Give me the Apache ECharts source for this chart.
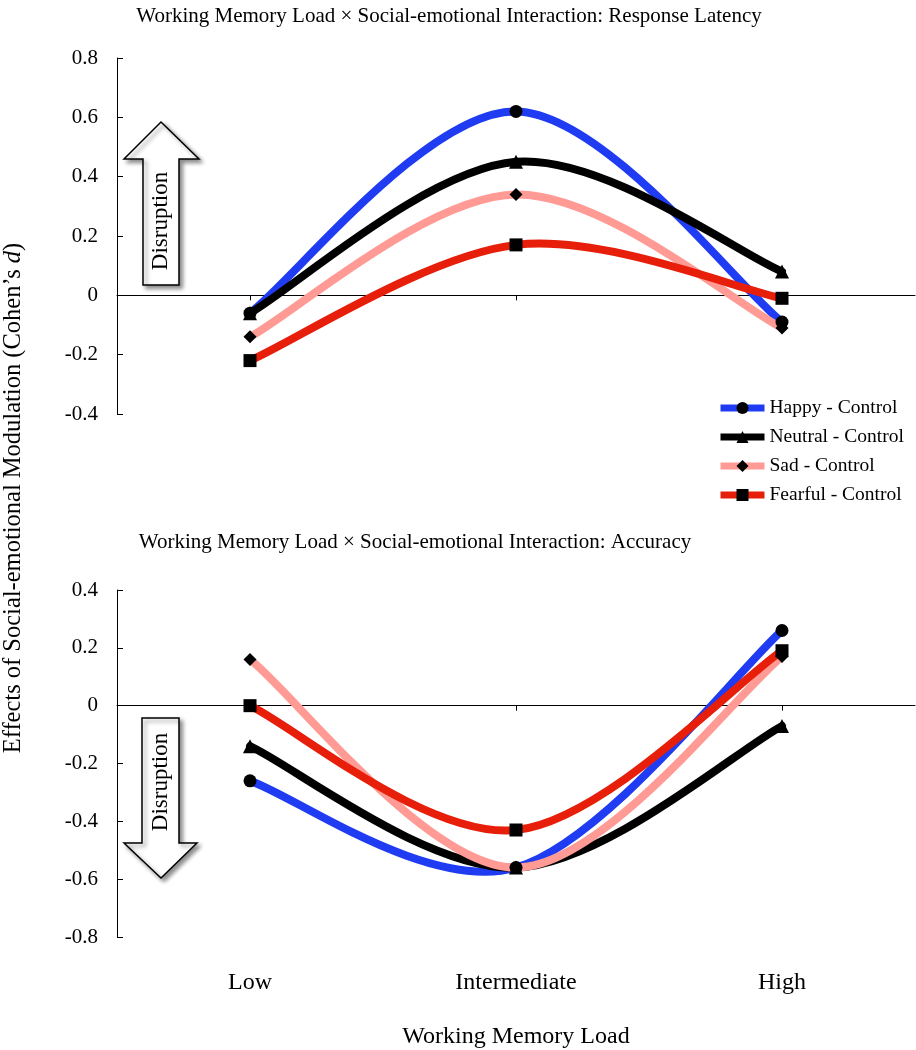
<!DOCTYPE html>
<html>
<head>
<meta charset="utf-8">
<script src="https://cdn.jsdelivr.net/npm/echarts@6/dist/echarts.min.js"></script>
<style>html,body{margin:0;padding:0;background:#fff}#c{width:916px;height:1050px}</style>
</head>
<body>
<div id="c"></div>
<script>
// ---- data ----
var categories = ['Low', 'Intermediate', 'High'];
var seriesNames = ['Happy - Control', 'Neutral - Control', 'Sad - Control', 'Fearful - Control'];
// Response latency (Cohen's d)
var latencyHappy   = [-0.06, 0.62, -0.09];
var latencyNeutral = [-0.06, 0.45, 0.08];
var latencySad     = [-0.14, 0.34, -0.11];
var latencyFearful = [-0.22, 0.17, -0.01];
// Accuracy (Cohen's d)
var accuracyHappy   = [-0.26, -0.56, 0.26];
var accuracyNeutral = [-0.14, -0.56, -0.07];
var accuracySad     = [0.16, -0.56, 0.17];
var accuracyFearful = [0.00, -0.43, 0.19];
// axis ticks
var latencyTicks = {min: -0.4, max: 0.8, interval: 0.2};
var accuracyTicks = {min: -0.8, max: 0.4, interval: 0.2};

var FONT = '"Liberation Serif", "Times New Roman", serif';
var colors = ['#1f3cf2', '#000000', '#ff9a94', '#e61e0a'];
var symbols = ['circle', 'triangle', 'diamond', 'rect'];
var symSizes = [13, 14, 13, 13];

var latencyData = [latencyHappy, latencyNeutral, latencySad, latencyFearful];
var accuracyData = [accuracyHappy, accuracyNeutral, accuracySad, accuracyFearful];

// smoothed curve (spreadsheet-style cubic Bezier, tension 1/6) drawn through the axes' scales
function mkCurve(vals, idx, xi, yi) {
  var n = vals.length;
  return {
    type: 'custom', xAxisIndex: xi, yAxisIndex: yi, silent: true, z: 2,
    data: vals.map(function (v, k) { return [k, v]; }),
    renderItem: function (params, api) {
      var i = params.dataIndex;
      if (i >= n - 1) return null;
      function pt(k) { return api.coord([k, vals[k]]); }
      var p1 = pt(i), p2 = pt(i + 1);
      var p0 = i > 0 ? pt(i - 1) : p1;
      var p3 = i + 2 < n ? pt(i + 2) : p2;
      var f = 1 / 6;
      return {
        type: 'bezierCurve',
        shape: {
          x1: p1[0], y1: p1[1], x2: p2[0], y2: p2[1],
          cpx1: p1[0] + f * (p2[0] - p0[0]), cpy1: p1[1] + f * (p2[1] - p0[1]),
          cpx2: p2[0] - f * (p3[0] - p1[0]), cpy2: p2[1] - f * (p3[1] - p1[1])
        },
        style: {fill: 'none', stroke: colors[idx], lineWidth: 8, lineCap: 'round'}
      };
    }
  };
}
function mkMarkers(vals, idx, xi, yi) {
  return {
    name: seriesNames[idx], type: 'line', data: vals,
    xAxisIndex: xi, yAxisIndex: yi,
    symbol: symbols[idx], symbolSize: symSizes[idx], showAllSymbol: true,
    lineStyle: {color: colors[idx], width: 8, opacity: 0},
    itemStyle: {color: '#000'},
    z: 3, emphasis: {disabled: true}, silent: true
  };
}
var series = [];
for (var i = 0; i < 4; i++) series.push(mkMarkers(latencyData[i], i, 0, 0));
for (var i = 0; i < 4; i++) series.push(mkMarkers(accuracyData[i], i, 1, 1));
for (var i = 0; i < 4; i++) series.push(mkCurve(latencyData[i], i, 0, 0));
for (var i = 0; i < 4; i++) series.push(mkCurve(accuracyData[i], i, 1, 1));

function yAx(grid, t) {
  return {
    type: 'value', gridIndex: grid, min: t.min, max: t.max, interval: t.interval,
    axisLine: {show: true, lineStyle: {color: '#000', width: 1}},
    axisTick: {show: true, inside: true, length: 6, lineStyle: {color: '#000'}},
    axisLabel: {color: '#000', fontFamily: FONT, fontSize: 21, margin: 19},
    splitLine: {show: false}
  };
}
function xAxZero(grid) {
  return {
    type: 'category', gridIndex: grid, data: categories, boundaryGap: true, position: 'bottom',
    axisLine: {show: true, onZero: true, lineStyle: {color: '#000', width: 1}},
    axisTick: {show: true, alignWithLabel: true, length: 5, lineStyle: {color: '#000'}},
    axisLabel: {show: false}
  };
}

var legendData = seriesNames.map(function (nm, k) {
  return {name: nm, lineStyle: {color: colors[k], width: 7, opacity: 1}, itemStyle: {color: '#000'}};
});

var option = {
  animation: false,
  backgroundColor: '#fff',
  grid: [
    {left: 117, width: 798, top: 58, height: 356},
    {left: 117, width: 798, top: 590, height: 355}
  ],
  xAxis: [
    xAxZero(0),
    xAxZero(1),
    {
      type: 'category', gridIndex: 1, data: categories, boundaryGap: true, position: 'bottom',
      axisLine: {show: false, onZero: false}, axisTick: {show: false},
      axisLabel: {color: '#000', fontFamily: FONT, fontSize: 24, margin: 34},
      name: 'Working Memory Load', nameLocation: 'middle', nameGap: 88,
      nameTextStyle: {color: '#000', fontFamily: FONT, fontSize: 24}
    }
  ],
  yAxis: [yAx(0, latencyTicks), yAx(1, accuracyTicks)],
  legend: {
    data: legendData, orient: 'vertical', left: 717, top: 398, padding: 0,
    itemWidth: 44, itemHeight: 15, itemGap: 9,
    textStyle: {color: '#000', fontFamily: FONT, fontSize: 19.5, lineHeight: 20},
    selectedMode: false
  },
  series: series,
  graphic: [
    {type: 'text', style: {text: 'Working Memory Load \u00d7 Social-emotional Interaction: Response Latency', x: 449, y: 16, align: 'center', verticalAlign: 'middle', font: '21px ' + FONT, fill: '#000'}},
    {type: 'text', style: {text: 'Working Memory Load \u00d7 Social-emotional Interaction: Accuracy', x: 415, y: 542, align: 'center', verticalAlign: 'middle', font: '21px ' + FONT, fill: '#000'}},
    {type: 'text', x: 14, y: 498, rotation: Math.PI / 2,
      style: {text: '{a|Effects of Social-emotional Modulation (Cohen\u2019s }{b|d}{a|)}', align: 'center', verticalAlign: 'middle',
        rich: {a: {fontFamily: FONT, fontSize: 24.5, fill: '#000'}, b: {fontFamily: FONT, fontSize: 24.5, fontStyle: 'italic', fill: '#000'}}}},
    {type: 'polygon', shape: {points: [[161,122],[199,159],[179,159],[179,285],[143,285],[143,159],[124,159]]},
      style: {fill: '#fff', stroke: '#000', lineWidth: 1.5, shadowBlur: 4, shadowOffsetX: 3, shadowOffsetY: 3, shadowColor: 'rgba(0,0,0,0.45)'}, z: 20},
    {type: 'text', x: 161, y: 221, rotation: Math.PI / 2, z: 21,
      style: {text: 'Disruption', align: 'center', verticalAlign: 'middle', font: '23px ' + FONT, fill: '#000'}},
    {type: 'polygon', shape: {points: [[142,718],[179,718],[179,843],[197,843],[161,878],[124,843],[142,843]]},
      style: {fill: '#fff', stroke: '#000', lineWidth: 1.5, shadowBlur: 4, shadowOffsetX: 3, shadowOffsetY: 3, shadowColor: 'rgba(0,0,0,0.45)'}, z: 20},
    {type: 'text', x: 161, y: 782, rotation: Math.PI / 2, z: 21,
      style: {text: 'Disruption', align: 'center', verticalAlign: 'middle', font: '23px ' + FONT, fill: '#000'}}
  ]
};
var chart = echarts.init(document.getElementById('c'), null, {renderer: 'canvas'});
chart.setOption(option);
</script>
</body>
</html>
